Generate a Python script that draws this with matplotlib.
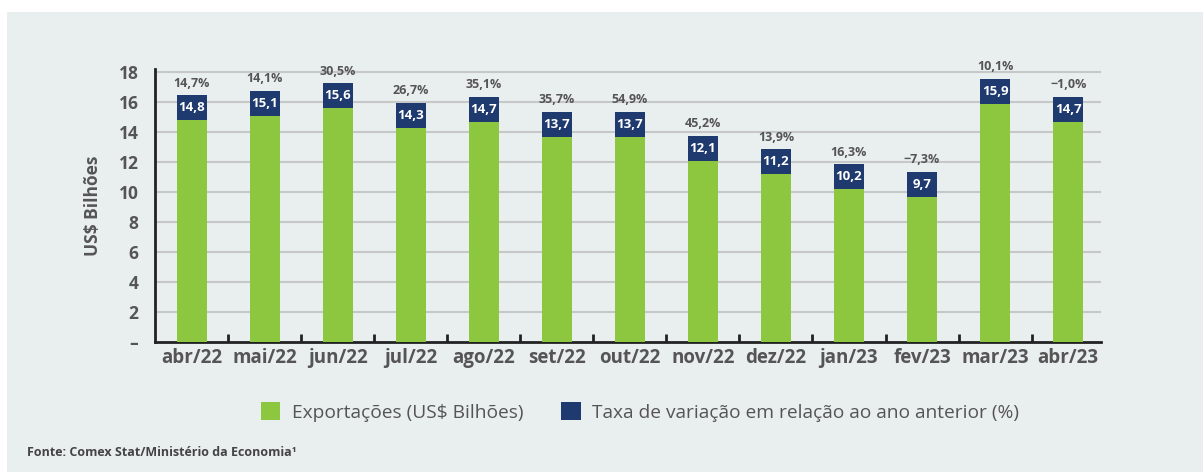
import matplotlib.pyplot as plt
from matplotlib.patches import Rectangle, Patch
import numpy as np

# dados
meses = ['abr/22', 'mai/22', 'jun/22', 'jul/22', 'ago/22', 'set/22', 'out/22',
         'nov/22', 'dez/22', 'jan/23', 'fev/23', 'mar/23', 'abr/23']
exportacoes = [14.8, 15.1, 15.6, 14.3, 14.7, 13.7, 13.7, 12.1, 11.2, 10.2, 9.7, 15.9, 14.7]
variacao = [14.7, 14.1, 30.5, 26.7, 35.1, 35.7, 54.9, 45.2, 13.9, 16.3, -7.3, 10.1, -1.0]
yticks = [0, 2, 4, 6, 8, 10, 12, 14, 16, 18]
ytick_labels = ['–', '2', '4', '6', '8', '10', '12', '14', '16', '18']

verde = '#8dc63f'
azul = '#1f3a6e'
fundo = '#e9eeee'
cinza = '#555555'
plt.rcParams['font.family'] = ['Open Sans', 'DejaVu Sans']

fig = plt.figure(figsize=(12.03, 4.72), dpi=100)
fig.patch.set_facecolor('white')
fig.patches.append(Rectangle((7 / 1203, 0), 1, 1 - 12 / 472, transform=fig.transFigure,
                             facecolor=fundo, edgecolor='none', zorder=-10))

ax = fig.add_axes([155 / 1203, 1 - 342 / 472, (1101 - 155) / 1203, 273 / 472])
ax.set_facecolor(fundo)

x = np.arange(len(meses))
caixa = 1.65  # altura da caixa azul
ax.bar(x, exportacoes, width=0.41, color=verde, zorder=3)
ax.bar(x, [caixa] * len(x), bottom=exportacoes, width=0.41, color=azul, zorder=3)

for i in range(len(x)):
    v = exportacoes[i]
    ax.text(x[i], v + caixa / 2, f'{v:.1f}'.replace('.', ','), ha='center', va='center',
            color='white', fontsize=9.5, fontweight='bold', zorder=4)
    p = f'{variacao[i]:.1f}'.replace('.', ',').replace('-', '−') + '%'
    ax.annotate(p, (x[i], v + caixa), xytext=(0, 4), textcoords='offset points',
                ha='center', va='bottom', color=cinza, fontsize=9, fontweight='bold')

ax.set_xlim(-0.5, 12.45)
ax.set_ylim(0, 18.2)
ax.set_yticks(yticks)
ax.set_yticklabels(ytick_labels, fontsize=12.5, fontweight='bold', color=cinza)
ax.set_xticks(x)
ax.set_xticklabels(meses, fontsize=13.5, fontweight='bold', color=cinza)
ax.tick_params(axis='x', length=0, pad=4)
ax.tick_params(axis='y', length=0, pad=12)
ax.set_xticks(x[:-1] + 0.5, minor=True)
ax.tick_params(axis='x', which='minor', direction='in', length=6, width=2, color='#222222')

for t in yticks[1:]:
    ax.axhline(t, color='#c6c8c8', linewidth=1.5, zorder=1)

for s in ['top', 'right']:
    ax.spines[s].set_visible(False)
for s in ['left', 'bottom']:
    ax.spines[s].set_linewidth(2)
    ax.spines[s].set_color('#222222')

ax.set_ylabel('US$ Bilhões', fontsize=12.5, fontweight='bold', color=cinza, labelpad=12)

handles = [Patch(facecolor=verde, label='Exportações (US$ Bilhões)'),
           Patch(facecolor=azul, label='Taxa de variação em relação ao ano anterior (%)')]
fig.legend(handles=handles, loc='center', bbox_to_anchor=(0.532, 1 - 412 / 472), ncol=2,
           frameon=False, fontsize=13.8, handlelength=1.0, handleheight=1.0,
           columnspacing=2.0, handletextpad=0.6, labelcolor=cinza)

fig.text(27 / 1203, 1 - 452 / 472, 'Fonte: Comex Stat/Ministério da Economia¹',
         fontsize=9, fontweight='bold', color='#444444', va='center')

fig.savefig('out.png', dpi=100)
